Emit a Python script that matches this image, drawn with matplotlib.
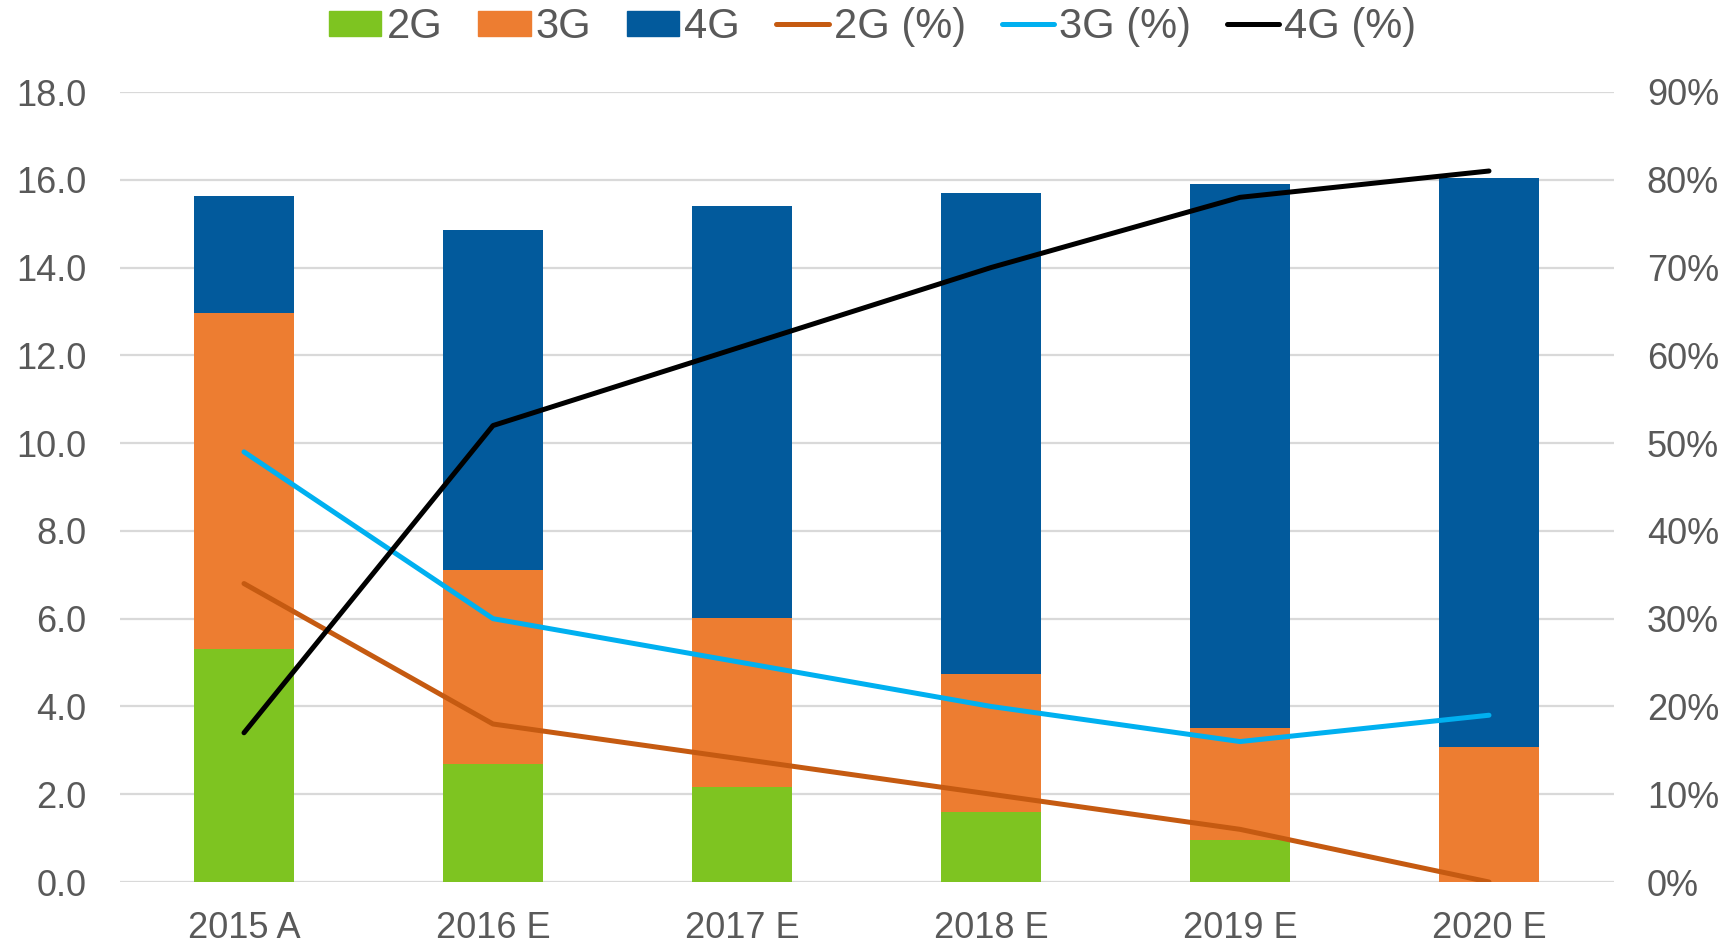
import matplotlib
matplotlib.use("Agg")
import matplotlib.pyplot as plt
from matplotlib.ticker import FuncFormatter, MultipleLocator
from matplotlib.patches import Patch
from matplotlib.lines import Line2D
import numpy as np

categories = ["2015 A", "2016 E", "2017 E", "2018 E", "2019 E", "2020 E"]
g2 = [5.31, 2.69, 2.17, 1.59, 0.96, 0.0]
g3 = [7.66, 4.43, 3.85, 3.14, 2.56, 3.07]
g4 = [2.66, 7.73, 9.39, 10.98, 12.39, 12.97]
pct2 = [34, 18, 14, 10, 6, 0]
pct3 = [49, 30, 25, 20, 16, 19]
pct4 = [17, 52, 61, 70, 78, 81]

C_G2 = "#7EC421"
C_G3 = "#ED7D31"
C_G4 = "#025A9C"
C_P2 = "#C55A11"
C_P3 = "#00B0F0"
C_P4 = "#000000"
TXT = "#595959"
GRID = "#D9D9D9"

plt.rcParams["font.family"] = ["Liberation Sans", "DejaVu Sans"]

fig = plt.figure(figsize=(17.32, 9.44), dpi=100)
L, R, T, B = 119.5, 1613.5, 92, 882
ax = fig.add_axes([L / 1732, 1 - B / 944, (R - L) / 1732, (B - T) / 944])
x = np.arange(len(categories))
w = 0.4
ax.bar(x, g2, w, color=C_G2, zorder=2)
bottom3 = np.array(g2)
ax.bar(x, g3, w, bottom=bottom3, color=C_G3, zorder=2)
bottom4 = bottom3 + np.array(g3)
ax.bar(x, g4, w, bottom=bottom4, color=C_G4, zorder=2)

ax.set_xlim(-0.5, len(categories) - 0.5)
ax.set_ylim(0, 18)
ax.yaxis.set_major_locator(MultipleLocator(2))
ax.yaxis.set_major_formatter(FuncFormatter(lambda v, p: f"{v:.1f}"))
ax.grid(axis="y", color=GRID, linewidth=1.6, zorder=0)
ax.set_axisbelow(True)
ax.set_xticks(x)
ax.set_xticklabels(categories)
for s in ax.spines.values():
    s.set_visible(False)
ax.tick_params(axis="both", length=0, labelsize=26, labelcolor=TXT)
ax.tick_params(axis="y", pad=24)
ax.tick_params(axis="x", pad=21)

ax2 = ax.twinx()
ax2.set_ylim(0, 90)
ax2.yaxis.set_major_locator(MultipleLocator(10))
ax2.yaxis.set_major_formatter(FuncFormatter(lambda v, p: f"{v:.0f}%"))
for s in ax2.spines.values():
    s.set_visible(False)
ax2.tick_params(axis="y", length=0, labelsize=26, labelcolor=TXT, pad=24)
lw = 3.6
ax2.plot(x, pct2, color=C_P2, lw=lw, solid_capstyle="round", solid_joinstyle="round")
ax2.plot(x, pct3, color=C_P3, lw=lw, solid_capstyle="round", solid_joinstyle="round")
ax2.plot(x, pct4, color=C_P4, lw=lw, solid_capstyle="round", solid_joinstyle="round")

handles = [
    Patch(color=C_G2), Patch(color=C_G3), Patch(color=C_G4),
    Line2D([], [], color=C_P2, lw=lw, solid_capstyle="round"),
    Line2D([], [], color=C_P3, lw=lw, solid_capstyle="round"),
    Line2D([], [], color=C_P4, lw=lw, solid_capstyle="round"),
]
labels = ["2G", "3G", "4G", "2G (%)", "3G (%)", "4G (%)"]
leg = fig.legend(handles, labels, loc="center", bbox_to_anchor=(0.504, 1 - 27 / 944),
                 ncol=6, frameon=False, fontsize=30, handlelength=1.25,
                 handleheight=0.53, handletextpad=0.12, columnspacing=0.87,
                 borderpad=0, borderaxespad=0)
for t in leg.get_texts():
    t.set_color(TXT)

fig.savefig("out.png", dpi=100)
